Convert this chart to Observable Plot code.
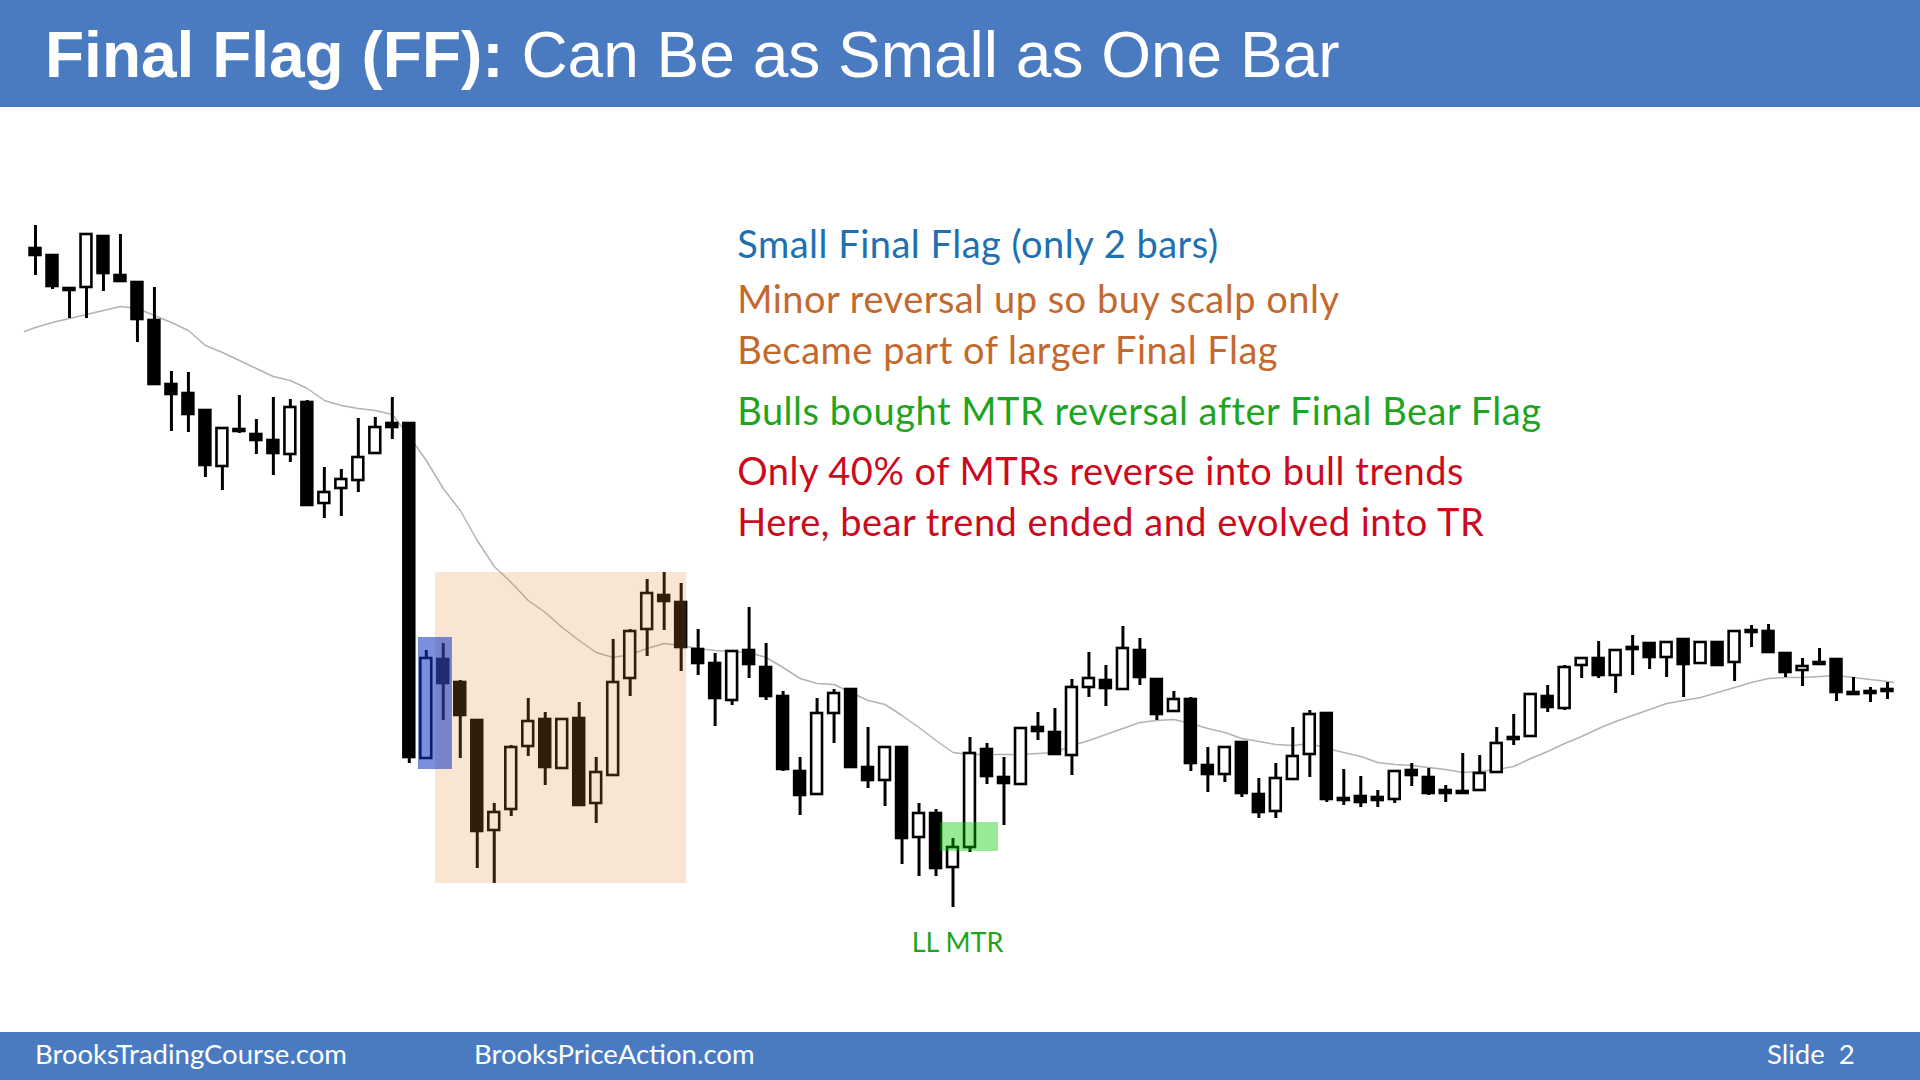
<!DOCTYPE html>
<html><head><meta charset="utf-8">
<script src="https://cdn.jsdelivr.net/npm/d3@7"></script>
<script src="https://cdn.jsdelivr.net/npm/@observablehq/plot@0.6"></script>
<style>
html,body{margin:0;padding:0;background:#fff;}
#page{position:relative;width:1920px;height:1080px;overflow:hidden;background:#fff;}
#header{position:absolute;left:0;top:0;width:1920px;height:107px;background:#4a7bc1;}
#title{position:absolute;left:45px;top:23px;font-family:"Liberation Sans",Arial,sans-serif;font-size:64px;line-height:1;color:#fff;white-space:nowrap;}
#title b{font-weight:bold;}
#chart{position:absolute;left:0;top:107px;}
#footer{position:absolute;left:0;top:1032px;width:1920px;height:48px;background:#4a7bc1;}
#footer span{position:absolute;top:8px;font-family:Lato,sans-serif;font-size:27.5px;line-height:1;color:#fff;white-space:nowrap;}
</style>
</head><body>
<div id="page">
  <div id="header"><div id="title"><b>Final Flag (FF):</b> Can Be as Small as One Bar</div></div>
  <div id="chart"></div>
  <div id="footer">
    <span style="left:35px">BrooksTradingCourse.com</span>
    <span style="left:474px">BrooksPriceAction.com</span>
    <span style="left:1767px">Slide&nbsp; 2</span>
  </div>
</div>
<script>
// Bar index (1..110) and OHLC prices
const bar = d3.range(1, 111);
const open = [752,745,712,713,764,725,718,680,616,607,
 590,534,571,566,560,546,598,497,512,520,
 547,577,577,242,341,318,280,170,191,254,
 281,232,282,197,225,322,371,405,398,351,
 337,300,350,333,304,229,206,287,311,233,
 220,253,163,187,133,153,251,223,216,273,
 268,245,313,320,311,350,321,289,301,235,
 226,258,206,189,221,246,287,202,204,203,
 201,230,223,210,209,210,228,263,264,304,
 292,335,342,325,351,357,343,361,337,358,
 338,370,369,347,330,338,341,308,309,311];
const high = [775,745,712,767,765,766,718,713,629,628,
 590,572,605,581,603,601,600,533,531,582,
 583,603,577,350,357,320,281,197,255,302,
 288,282,298,243,361,371,421,428,417,371,
 347,349,393,357,309,243,302,311,311,273,
 253,253,197,191,162,263,257,243,273,288,
 292,321,348,335,374,362,321,309,303,253,
 253,258,222,237,273,290,287,231,224,210,
 229,237,232,215,247,245,273,286,306,315,
 335,342,359,351,365,357,358,362,358,358,
 370,375,376,347,342,352,342,323,313,318];
const low = [725,711,682,682,709,718,658,616,569,568,
 523,510,567,546,525,538,495,482,484,508,
 547,561,237,242,280,242,132,117,184,244,
 215,231,195,177,225,304,344,370,329,325,
 274,295,322,300,229,185,206,257,232,212,
 194,136,124,124,93,148,216,175,215,260,
 245,225,303,294,311,315,280,289,229,208,
 218,203,182,182,221,223,198,195,193,193,
 197,214,205,198,207,210,228,255,264,288,
 290,322,322,307,325,331,323,303,337,335,
 319,353,347,323,314,336,299,306,298,301];
const close = [745,714,710,766,727,719,681,616,606,586,
 535,572,569,560,547,593,495,508,521,543,
 573,573,243,342,317,285,169,188,253,279,
 233,281,195,228,318,369,407,399,353,337,
 302,349,336,304,231,205,287,307,233,220,
 253,162,187,132,153,247,224,217,272,269,
 246,313,322,312,352,323,286,301,237,226,
 253,207,188,222,244,286,201,200,198,200,
 229,225,207,207,207,227,257,261,306,293,
 333,342,325,350,353,343,358,336,358,335,
 369,368,348,328,334,336,308,306,307,309];
// Moving average (gray line): one reading per bar, plus the line's visible start and end
const emaStart = {bar: 0.35, value: 669};
const emaEnd = {bar: 110.35, value: 318};
const ema = [673,678,682,686,690,694,692,685,678,670,
 655,648,640,632,624,620,612,600,595,592,
 590,586,564,540,512,490,460,434,418,400,
 388,373,360,348,343,346,352,357,355,352,
 350,349,348,343,333,322,317,316,308,300,
 296,285,273,260,248,246,246,246,246,247,
 248,255,260,266,272,278,280,281,277,272,
 268,262,259,256,255,257,252,248,244,238,
 236,235,233,231,228,229,231,234,242,249,
 257,264,272,279,285,291,297,300,303,308,
 313,318,322,323,323,324,325,323,321,319];

// Highlight zones (bar index span, price span)
const zoneName = ["largerFinalFlag", "smallFinalFlag", "mtr"];
const zoneX1 = [24.54, 23.54, 54.27];
const zoneX2 = [39.32, 25.54, 57.68];
const zoneY1 = [117, 231, 149];
const zoneY2 = [428, 363, 178];
const zoneFill = ["rgb(223,140,47)", "rgb(18,54,196)", "rgb(0,200,0)"];
const zoneOpacity = [0.215, 0.56, 0.4];

// Annotations
const noteText = [
  "Small Final Flag (only 2 bars)",
  "Minor reversal up so buy scalp only",
  "Became part of larger Final Flag",
  "Bulls bought MTR reversal after Final Bear Flag",
  "Only 40% of MTRs reverse into bull trends",
  "Here, bear trend ended and evolved into TR"
];
const noteColor = ["#1f70b0", "#c4692e", "#c4692e", "#1ea51e", "#cc0a1e", "#cc0a1e"];
const noteBar = [42.3, 42.3, 42.3, 42.3, 42.3, 42.3];
const notePrice = [743, 688, 637, 576, 516, 465];

const bars = bar.map((b, k) => ({bar: b, open: open[k], high: high[k], low: low[k], close: close[k]}));
const emaLine = [emaStart, ...bar.map((b, k) => ({bar: b, value: ema[k]})), emaEnd];
const zones = zoneName.map((n, k) => ({name: n, x1: zoneX1[k], x2: zoneX2[k], y1: zoneY1[k], y2: zoneY2[k], fill: zoneFill[k], op: zoneOpacity[k]}));
const notes = noteText.map((t, k) => ({text: t, color: noteColor[k], bar: noteBar[k], price: notePrice[k]}));

const half = 0.32;
const chart = Plot.plot({
  width: 1920,
  height: 925,
  marginTop: 0, marginRight: 0, marginBottom: 0, marginLeft: 0,
  x: {domain: [1, 110], range: [35, 1887], axis: null},
  y: {domain: [0, 893], range: [893, 0], axis: null},
  marks: [
    Plot.line(emaLine, {x: "bar", y: "value", stroke: "#b3b3b3", strokeWidth: 1.5}),
    Plot.ruleX(bars, {x: "bar", y1: "low", y2: "high", stroke: "#000", strokeWidth: 3}),
    Plot.rect(bars, {x1: d => d.bar - half, x2: d => d.bar + half, y1: "open", y2: "close",
      fill: d => d.close > d.open ? "#fff" : "#000", stroke: "#000", strokeWidth: 2.6}),
    ...zones.map(z => Plot.rect([z], {x1: "x1", x2: "x2", y1: "y1", y2: "y2", fill: z.fill, fillOpacity: z.op})),
    Plot.text(notes, {x: "bar", y: "price", text: "text", fill: "color", textAnchor: "start", lineAnchor: "bottom",
      fontSize: 38, fontFamily: "Lato, sans-serif", style: {letterSpacing: "0.5px"}}),
    Plot.text([{label: "LL MTR", bar: 55.27, price: 49}], {x: "bar", y: "price", text: "label", fill: "#1ea51e",
      textAnchor: "middle", lineAnchor: "bottom", fontSize: 27, fontFamily: "Lato, sans-serif"})
  ]
});
chart.querySelectorAll("text").forEach(t => {
  if (t.closest("g") && t.closest("g").getAttribute("font-size") === "38") t.setAttribute("letter-spacing", "0.5");
});
document.getElementById("chart").appendChild(chart);
</script>
</body></html>
